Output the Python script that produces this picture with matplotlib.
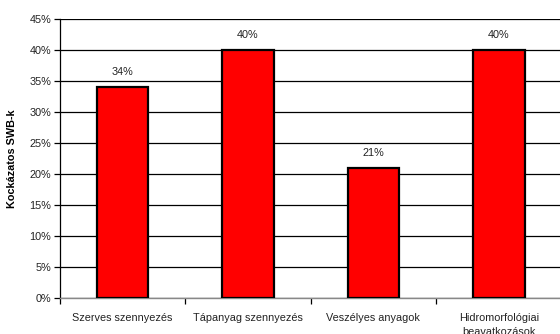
import matplotlib
matplotlib.use("Agg")
import matplotlib.pyplot as plt
from matplotlib.ticker import FuncFormatter, MultipleLocator

categories = ["Szerves szennyezés", "Tápanyag szennyezés", "Veszélyes anyagok",
              "Hidromorfológiai\nbeavatkozások"]
values = [34, 40, 21, 40]
value_labels = ["34%", "40%", "21%", "40%"]
y_label = "Kockázatos SWB-k"

plt.rcParams["font.family"] = ["Liberation Sans", "DejaVu Sans"]

fig = plt.figure(figsize=(5.6, 3.34), dpi=100)
ax = fig.add_axes([59.5 / 560, 1 - 298 / 334, 1 - 59.5 / 560 + 0.003, (298 - 19) / 334])

x = list(range(len(categories)))
bars = ax.bar(x, values, width=0.41, color="#ff0000", edgecolor="black",
              linewidth=1.6, zorder=3)

for xi, v, lbl in zip(x, values, value_labels):
    ax.annotate(lbl, (xi, v), xytext=(0, 7), textcoords="offset points",
                ha="center", va="bottom", fontsize=7.8, color="#222222")

ax.set_xlim(-0.5, len(categories) - 0.5)
ax.set_ylim(0, 45)
ax.yaxis.set_major_locator(MultipleLocator(5))
ax.yaxis.set_major_formatter(FuncFormatter(lambda v, p: f"{v:.0f}%"))
ax.grid(axis="y", color="black", linewidth=0.9, zorder=0)

ax.set_xticks([i + 0.5 for i in x[:-1]] + [-0.5])
ax.set_xticklabels([])
ax.set_xticks(x, minor=True)
ax.set_xticklabels(categories, minor=True, fontsize=7.8, color="#222222",
                   linespacing=1.45)
ax.tick_params(axis="x", which="minor", length=0, pad=11)
ax.tick_params(axis="x", which="major", length=4, width=0.9, direction="out")
ax.tick_params(axis="y", length=4, width=0.9, labelsize=7.8, labelcolor="#222222", pad=2)

for side in ["top", "right"]:
    ax.spines[side].set_visible(False)
ax.spines["left"].set_linewidth(0.9)
ax.spines["bottom"].set_color("#888888")
ax.spines["bottom"].set_linewidth(1.0)

ax.set_ylabel(y_label, fontsize=7.8, fontweight="bold", labelpad=9)

fig.savefig("out.png", dpi=100)
